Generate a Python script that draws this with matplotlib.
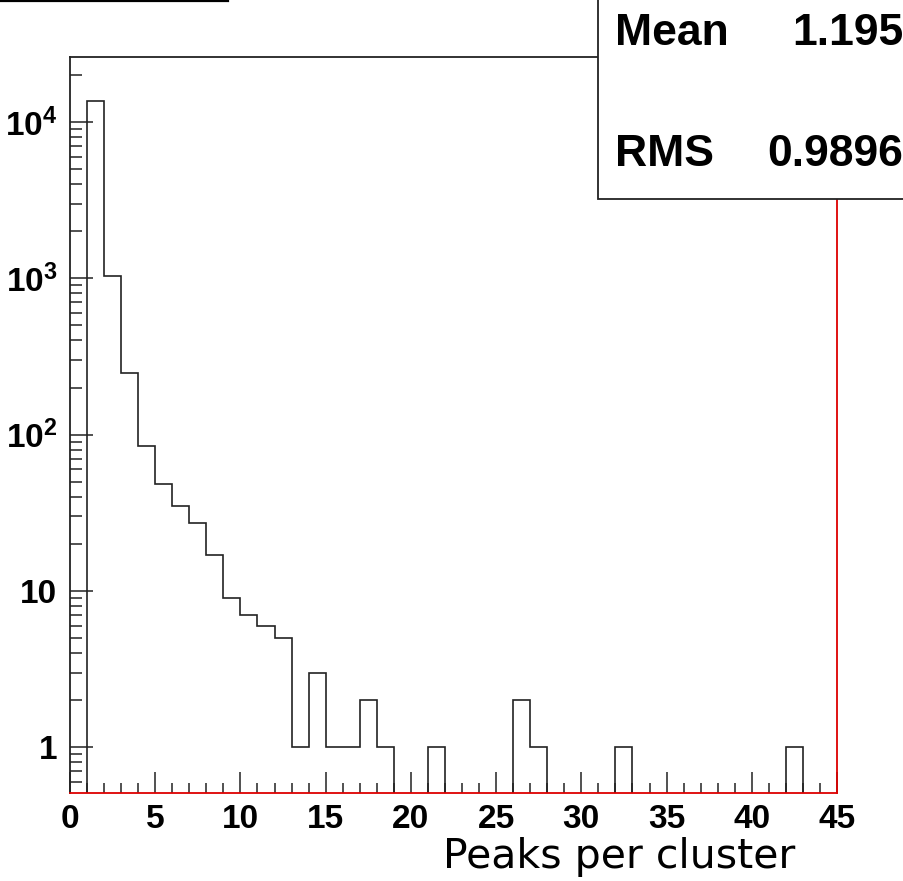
import numpy as np
import matplotlib
matplotlib.use("Agg")
import matplotlib.pyplot as plt
from matplotlib.patches import Rectangle
from matplotlib.lines import Line2D
from matplotlib.ticker import FixedLocator, NullFormatter

plt.rcParams['mathtext.fontset'] = 'custom'
plt.rcParams['mathtext.bf'] = 'Liberation Sans:bold'
plt.rcParams['mathtext.rm'] = 'Liberation Sans:bold'

# histogram data (bin edges 0..45, width 1)
bin_edges = np.arange(0, 46)
counts = [0, 13600, 1035, 246, 85, 48, 35, 27, 17, 9,
          7, 6, 5, 1, 3, 1, 1, 2, 1, 0,
          0, 1, 0, 0, 0, 0, 2, 1, 0, 0,
          0, 0, 1, 0, 0, 0, 0, 0, 0, 0,
          0, 0, 1, 0, 0]
stat_mean = "1.195"
stat_rms = "0.9896"
x_ticks = [0, 5, 10, 15, 20, 25, 30, 35, 40, 45]
y_ticks = [1, 10, 100, 1000, 10000]
y_ticklabels = ['1', '10', r'$\mathbf{10^{2}}$', r'$\mathbf{10^{3}}$', r'$\mathbf{10^{4}}$']
xlabel = "Peaks per cluster"

fig = plt.figure(figsize=(9.04, 8.81), dpi=100)
ax = fig.add_axes([0.0774, 0.0999, 0.9259 - 0.0774, 0.9353 - 0.0999])

ax.stairs(counts, bin_edges, color="#222222", linewidth=1.2)

ax.set_yscale('log')
ax.set_xlim(0, 45)
ax.set_ylim(0.51, 26000)

# ticks
ax.set_xticks(x_ticks)
ax.set_xticklabels([str(t) for t in x_ticks])
ax.xaxis.set_minor_locator(FixedLocator(np.arange(0, 46, 1)))
ax.set_yticks(y_ticks)
ax.set_yticklabels(y_ticklabels)
minor_y = [m * 10.0 ** e for e in range(-1, 5) for m in range(2, 10)]
ax.yaxis.set_minor_locator(FixedLocator(minor_y))
ax.yaxis.set_minor_formatter(NullFormatter())

ax.tick_params(axis='both', which='both', direction='in', top=False, right=False,
               color="#222222", width=1.1)
ax.tick_params(axis='x', which='major', length=15, pad=8)
ax.tick_params(axis='x', which='minor', length=7)
ax.tick_params(axis='y', which='major', length=16.5, pad=9)
ax.tick_params(axis='y', which='minor', length=8.5)
for lab in ax.get_xticklabels() + ax.get_yticklabels():
    lab.set_fontfamily('Liberation Sans')
    lab.set_fontweight('bold')
    lab.set_fontsize(24)

# frame
ax.spines['left'].set_color("#222222")
ax.spines['top'].set_color("#222222")
ax.spines['right'].set_color("#dd0000")
ax.spines['bottom'].set_color("#dd0000")
for s in ax.spines.values():
    s.set_linewidth(1.3)

# x label
fig.text(0.8795, 0.0148, xlabel, ha='right', va='baseline',
         fontfamily='DejaVu Sans', fontsize=29.5)

# stats box
box = Rectangle((0.6619, 0.7741), 0.5, 0.4, transform=fig.transFigure,
                facecolor='white', edgecolor="#222222", linewidth=1.3, zorder=5)
fig.add_artist(box)
for label, value, ypos in [("Mean", stat_mean, 0.9489), ("RMS", stat_rms, 0.8116)]:
    fig.text(0.680, ypos, label, ha='left', va='baseline', fontfamily='Liberation Sans',
             fontweight='bold', fontsize=32, zorder=6)
    fig.text(0.999, ypos, value, ha='right', va='baseline', fontfamily='Liberation Sans',
             fontweight='bold', fontsize=32, zorder=6)

# title box edge at top left
fig.add_artist(Line2D([0, 0.252], [0.999, 0.999], transform=fig.transFigure,
                      color='black', linewidth=1.6))

fig.savefig("out.png", dpi=100)
